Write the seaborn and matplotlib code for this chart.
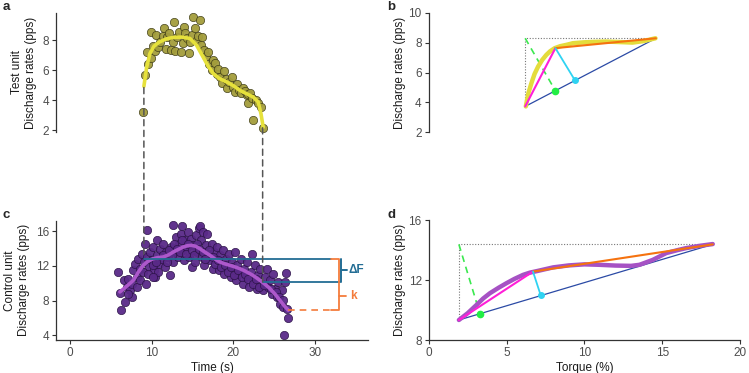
import numpy as np
import pandas as pd
import seaborn as sns
import matplotlib.pyplot as plt
from matplotlib.patches import ConnectionPatch

# ---- panel a : test unit (time, discharge rate) ----
test_time = [8.98, 9.22, 9.39, 9.59, 9.88, 9.92, 10.12, 10.37, 10.53, 10.82, 11.02, 11.35, 11.55,
             11.76, 11.92, 12.16, 12.33, 12.57, 12.78, 12.9, 13.14, 13.39, 13.63, 13.8, 13.96,
             14.08, 14.29, 14.53, 14.69, 14.9, 15.1, 15.31, 15.51, 15.71, 15.92, 16.0, 16.12,
             16.41, 16.65, 16.86, 17.06, 17.39, 17.55, 17.76, 17.96, 18.16, 18.37, 18.61, 18.86,
             19.1, 19.27, 19.51, 19.8, 20.0, 20.25, 20.41, 20.65, 20.9, 21.14, 21.39, 21.63,
             21.84, 22.04, 21.84, 22.24, 22.45, 22.78, 23.06, 23.35, 23.67]
test_rate = [3.22, 5.71, 7.22, 6.44, 8.51, 6.78, 7.6, 7.27, 8.33, 7.56, 7.89, 8.27, 8.78,
             7.44, 8.22, 8.44, 7.33, 7.89, 9.18, 7.29, 8.22, 8.56, 7.2, 7.78, 8.89,
             8.44, 8.11, 7.16, 7.89, 8.33, 9.51, 8.78, 8.0, 8.27, 9.33, 7.67, 8.22,
             7.33, 6.93, 7.22, 6.44, 6.0, 6.67, 6.49, 5.78, 6.11, 5.56, 5.16, 5.96,
             5.44, 4.84, 5.22, 5.56, 4.89, 4.56, 5.11, 4.67, 4.49, 4.84, 4.6, 4.33,
             4.44, 4.49, 3.84, 4.18, 2.71, 4.04, 3.82, 3.56, 2.18]
test_fit_time = [9.06, 9.4, 9.8, 10.3, 11.0, 11.8, 12.65, 13.7, 14.7, 15.5, 16.3, 16.9, 17.55,
                 18.3, 19.2, 20.0, 20.8, 21.6, 22.45, 23.06, 23.4, 23.67]
test_fit_rate = [4.93, 6.2, 7.11, 7.6, 7.89, 8.08, 8.18, 8.2, 8.11, 7.67, 6.89, 6.3, 5.78,
                 5.45, 5.22, 4.98, 4.67, 4.45, 4.22, 3.89, 3.1, 2.22]

# ---- panel c : control unit ----
ctrl_time = [5.92, 6.2, 6.12, 6.73, 6.61, 6.94, 7.14, 7.35, 7.55, 7.76, 7.96, 8.16, 8.37, 8.57,
             8.78, 9.06, 9.18, 9.47, 9.39, 9.71, 9.8, 10.0, 10.2, 10.29, 10.41, 10.61, 10.69,
             10.94, 11.02, 11.22, 11.43, 11.63, 11.76, 12.04, 12.24, 12.33, 12.57, 12.65, 12.86,
             12.98, 13.27, 13.39, 13.55, 13.71, 13.8, 13.96, 14.08, 14.29, 14.41, 14.61, 14.78,
             14.94, 15.1, 15.31, 15.43, 15.59, 15.76, 15.92, 16.0, 16.12, 16.33, 16.41, 16.65,
             16.82, 16.94, 17.14, 17.35, 17.55, 17.67, 17.88, 18.04, 18.2, 18.37, 18.57, 18.78,
             18.9, 19.1, 19.27, 19.51, 19.67, 19.84, 20.0, 20.2, 20.33, 20.49, 20.73, 20.9,
             21.14, 21.31, 21.55, 21.71, 21.96, 22.12, 22.29, 22.45, 22.65, 22.86, 23.06, 23.27,
             23.47, 23.67, 23.88, 24.08, 24.29, 24.49, 24.69, 24.9, 25.1, 25.31, 25.51, 25.71,
             25.92, 26.12, 26.2, 26.33, 26.45, 26.61, 26.73,
             8.98, 9.59, 10.12, 10.53, 10.82, 11.35, 11.84, 12.16, 12.45, 12.73, 13.06, 13.47,
             13.67, 14.2, 14.49, 14.9, 15.22, 15.51, 15.84, 16.24, 16.53, 17.06, 17.47, 17.76,
             18.16, 18.45, 19.0, 19.39, 19.76, 20.12, 20.61, 21.02, 21.43, 21.84, 22.37, 22.78,
             23.18, 23.8, 24.57, 25.22, 25.63, 26.04, 7.55, 7.14, 8.24, 8.57, 9.31, 10.2]
ctrl_rate = [11.29, 6.96, 8.88, 7.84, 10.33, 9.57, 10.53, 9.18, 9.95, 11.48, 12.25, 10.72, 12.82, 11.67,
             13.4, 12.44, 14.55, 16.08, 13.0, 11.87, 13.59, 12.63, 14.17, 11.48, 10.72, 13.21, 14.93,
             12.25, 13.97, 12.82, 14.55, 11.87, 13.59, 13.02, 10.91, 14.17, 12.44, 16.66, 13.59,
             15.31, 13.02, 14.55, 15.7, 16.54, 13.78, 12.63, 14.93, 14.17, 15.89, 13.02, 15.12,
             11.87, 14.36, 12.44, 15.51, 13.59, 16.39, 16.54, 14.93, 13.02, 15.89, 12.06, 14.36,
             15.62, 13.4, 12.63, 14.55, 11.67, 13.59, 12.82, 14.17, 11.48, 13.21, 12.25, 13.78,
             11.1, 12.82, 11.87, 13.4, 10.72, 12.44, 11.48, 13.59, 10.33, 12.06, 11.1, 12.82,
             9.95, 11.67, 10.72, 12.44, 9.57, 11.29, 13.4, 10.33, 12.06, 9.38, 10.91, 11.67,
             9.95, 9.18, 10.72, 11.67, 9.57, 10.33, 8.8, 11.1, 9.38, 8.42, 10.14, 7.65,
             9.18, 7.27, 4.0, 10.14, 11.18, 7.08, 6.0,
             11.29, 11.1, 12.06, 12.44, 11.29, 13.21, 12.44, 13.78, 13.21, 14.55, 13.97, 13.59,
             14.93, 13.4, 14.55, 13.78, 13.21, 14.55, 13.97, 13.59, 12.82, 13.78, 13.02, 12.25,
             12.63, 11.87, 12.06, 11.29, 11.87, 10.91, 11.48, 10.72, 11.1, 10.53, 9.95, 10.53,
             9.57, 9.76, 9.38, 8.99, 8.42, 8.03, 8.42, 8.8, 9.57, 10.33, 9.95, 10.7]
ctrl_fit_time = [6.12, 6.9, 7.76, 8.4, 8.98, 9.6, 10.2, 10.8, 11.43, 12.05, 12.65, 13.3, 13.88, 14.4,
                 14.9, 15.4, 15.92, 16.5, 17.14, 17.75, 18.37, 19.0, 19.59, 20.2, 20.82, 21.4,
                 22.04, 22.65, 23.27, 23.9, 24.49, 25.1, 25.71, 26.2, 26.73]
ctrl_fit_rate = [8.99, 9.6, 10.33, 11.3, 12.06, 12.55, 12.82, 12.95, 13.02, 13.25, 13.59, 13.9, 14.17, 14.32,
                 14.36, 14.25, 13.97, 13.6, 13.21, 12.8, 12.44, 12.22, 12.06, 11.88, 11.67, 11.42,
                 11.1, 10.75, 10.33, 9.87, 9.38, 8.75, 8.03, 7.45, 6.89]

# delta F / k annotation levels (control unit rates)
t_recruit, t_derecruit = 9.06, 23.6
rate_a_recruit, rate_a_derecruit = 4.85, 2.18
rate_c_recruit, rate_c_derecruit = 12.83, 10.14
t_ctrl_end, rate_c_end = 26.73, 6.89

# ---- panel b : test unit rate vs torque ----
b_curve_torque = [6.24, 6.4, 6.6, 6.8, 7.03, 7.3, 7.56, 7.8, 8.1, 8.45, 8.85, 9.27, 10.0, 10.7,
                  11.4, 12.2, 13.1, 13.8, 14.57]
b_curve_rate = [3.73, 4.6, 5.29, 5.9, 6.4, 6.85, 7.18, 7.42, 7.63, 7.76, 7.85, 7.96, 8.02, 8.05,
                8.07, 8.04, 8.0, 8.1, 8.29]
b_start = (6.2, 3.73)
b_knee = (8.14, 7.63)
b_end = (14.6, 8.29)
b_perp = (9.4, 5.47)
b_green = (8.14, 4.78)

# ---- panel d : control unit rate vs torque ----
d_curve_torque = [1.94, 2.5, 3.07, 3.5, 3.93, 4.5, 5.0, 5.5, 6.06, 6.5, 7.03, 8.0, 9.0, 10.0, 10.98,
                  12.0, 13.0, 13.54, 14.4, 15.26, 16.0, 16.54, 17.4, 18.25]
d_curve_rate = [9.35, 9.8, 10.35, 10.78, 11.13, 11.5, 11.8, 12.08, 12.35, 12.5, 12.62, 12.85, 12.98, 13.05, 13.02,
                12.97, 12.95, 13.02, 13.35, 13.8, 14.0, 14.13, 14.28, 14.4]
d_start = (1.94, 9.35)
d_knee = (6.7, 12.57)
d_end = (18.25, 14.38)
d_perp = (7.2, 10.98)
d_green = (3.29, 9.77)

sns.set_theme(style="ticks")
plt.rcParams["font.family"] = ["Liberation Sans", "DejaVu Sans"]

TICK_GREY = "#4d4d4d"
AX_COL = "#333333"


def style_axis(ax, bottom=True):
    sns.despine(ax=ax, bottom=not bottom)
    for s in ["left", "bottom"]:
        ax.spines[s].set_color(AX_COL)
        ax.spines[s].set_linewidth(0.9)
    ax.tick_params(length=3, width=0.8, color=AX_COL, labelcolor=TICK_GREY, labelsize=8.5, pad=2)
    if not bottom:
        ax.set_xticks([])
        ax.set_xlabel("")


def draw_torque_panel(ax, torque, rate, curve_col, start, knee, end, perp, green):
    # dotted reference box
    ax.plot([start[0], start[0], end[0]], [start[1], end[1], end[1]], ls=(0, (1, 1.5)),
            color="#777777", lw=0.8)
    # green dashed line to its point on the diagonal
    ax.plot([start[0], green[0]], [end[1], green[1]], ls=(0, (4, 3)), color="#3be84f", lw=1.2)
    # diagonal
    ax.plot([start[0], end[0]], [start[1], end[1]], color="#2b4aa5", lw=0.9)
    sns.lineplot(x=torque, y=rate, ax=ax, color=curve_col, lw=3.2, sort=False, estimator=None,
                 solid_capstyle="round")
    ax.plot([start[0], knee[0]], [start[1], knee[1]], color="#ff1fd8", lw=1.5)
    ax.plot([knee[0], end[0]], [knee[1], end[1]], color="#f5720f", lw=1.5)
    ax.plot([knee[0], perp[0]], [knee[1], perp[1]], color="#2fd3f2", lw=1.3)
    ax.plot([perp[0]], [perp[1]], "o", color="#2fd3f2", ms=4)
    ax.plot([green[0]], [green[1]], "o", color="#22ee44", ms=4.5)


W, H = 749, 373
fig = plt.figure(figsize=(W / 100, H / 100), dpi=100)


def px_axes(left, top, right, bottom):
    return fig.add_axes([left / W, 1 - bottom / H, (right - left) / W, (bottom - top) / H])


ax_a = px_axes(56, 13, 368, 132)
ax_b = px_axes(428.7, 12.7, 740, 132.3)
ax_c = px_axes(56, 220.7, 368, 340)
ax_d = px_axes(428.7, 220, 740, 340.3)

# panel a
sns.scatterplot(x=test_time, y=test_rate, ax=ax_a, s=36, color="#a39d3c", edgecolor="#3e3c17",
                linewidth=0.5, alpha=0.95, zorder=2)
sns.lineplot(x=test_fit_time, y=test_fit_rate, ax=ax_a, color="#e6e13c", lw=2.6, sort=False,
             estimator=None, zorder=3, solid_capstyle="round")
ax_a.set_xlim(-1.7, 36.5)
ax_a.set_ylim(1.9, 9.8)
ax_a.set_yticks([2, 4, 6, 8])
ax_a.set_ylabel("Test unit\nDischarge rates (pps)", fontsize=8.5, color="#1a1a1a", labelpad=4)
style_axis(ax_a, bottom=False)

# panel c
sns.scatterplot(x=ctrl_time, y=ctrl_rate, ax=ax_c, s=36, color="#5a2a88", edgecolor="#2a1245",
                linewidth=0.5, alpha=0.95, zorder=2)
sns.lineplot(x=ctrl_fit_time, y=ctrl_fit_rate, ax=ax_c, color="#ad58cb", lw=2.6, sort=False,
             estimator=None, zorder=3, solid_capstyle="round")
BLUE = "#236d94"
ORANGE = "#f47c3c"
x_brk = 32.97
ax_c.plot([t_recruit, x_brk - 1.0], [rate_c_recruit] * 2, color=BLUE, lw=1.3, zorder=4)
ax_c.plot([t_derecruit, x_brk + 0.15], [rate_c_derecruit] * 2, color=BLUE, lw=1.3, zorder=4)
ax_c.plot([t_ctrl_end, x_brk - 1.0], [rate_c_end] * 2, color=ORANGE, lw=1.2, ls=(0, (4, 3)), zorder=4)
ax_c.plot([x_brk - 1.0, x_brk, x_brk, x_brk - 1.0],
          [rate_c_recruit, rate_c_recruit, rate_c_end, rate_c_end], color=ORANGE, lw=1.3, zorder=4)
k_mid = (rate_c_derecruit + rate_c_end) / 2
ax_c.plot([x_brk, x_brk + 0.8], [k_mid, k_mid], color=ORANGE, lw=1.3, zorder=4)
ax_c.plot([x_brk + 0.2, x_brk + 0.2], [rate_c_recruit, rate_c_derecruit], color=BLUE, lw=1.4, zorder=5)
df_mid = (rate_c_recruit + rate_c_derecruit) / 2
ax_c.plot([x_brk + 0.2, x_brk + 0.9], [df_mid, df_mid], color=BLUE, lw=1.4, zorder=5)
ax_c.text(x_brk + 1.2, df_mid, "ΔF", color=BLUE, fontsize=8.5, weight="bold", va="center")
ax_c.text(x_brk + 1.4, k_mid, "k", color=ORANGE, fontsize=8.5, weight="bold", va="center")
ax_c.set_xlim(-1.7, 36.5)
ax_c.set_ylim(3.45, 17.2)
ax_c.set_xticks([0, 10, 20, 30])
ax_c.set_yticks([4, 8, 12, 16])
ax_c.set_xlabel("Time (s)", fontsize=8.5, color="#1a1a1a", labelpad=2)
ax_c.set_ylabel("Control unit\nDischarge rates (pps)", fontsize=8.5, color="#1a1a1a", labelpad=4)
style_axis(ax_c)

# dashed connectors between test and control unit
for t, ra, rc in [(t_recruit, rate_a_recruit, rate_c_recruit),
                  (t_derecruit, rate_a_derecruit, rate_c_derecruit)]:
    con = ConnectionPatch(xyA=(t, ra), coordsA=ax_a.transData, xyB=(t, rc), coordsB=ax_c.transData,
                          color="#555555", lw=1.1, ls=(0, (4, 3)))
    fig.add_artist(con)

# panel b
draw_torque_panel(ax_b, b_curve_torque, b_curve_rate, "#e4dc3c", b_start, b_knee, b_end, b_perp, b_green)
ax_b.set_xlim(0, 20)
ax_b.set_ylim(2, 10)
ax_b.set_yticks([2, 4, 6, 8, 10])
ax_b.set_ylabel("Discharge rates (pps)", fontsize=8.5, color="#1a1a1a", labelpad=2)
style_axis(ax_b, bottom=False)

# panel d
draw_torque_panel(ax_d, d_curve_torque, d_curve_rate, "#a652c4", d_start, d_knee, d_end, d_perp, d_green)
ax_d.set_xlim(0, 20)
ax_d.set_ylim(8, 16)
ax_d.set_xticks([0, 5, 10, 15, 20])
ax_d.set_yticks([8, 12, 16])
ax_d.set_xlabel("Torque (%)", fontsize=8.5, color="#1a1a1a", labelpad=2)
ax_d.set_ylabel("Discharge rates (pps)", fontsize=8.5, color="#1a1a1a", labelpad=2)
style_axis(ax_d)

for lab, x, y in [("a", 6, 7), ("b", 391, 7), ("c", 6, 215), ("d", 392, 215)]:
    fig.text(x / W, 1 - y / H, lab, fontsize=9.5, weight="bold", ha="center", va="center")

fig.savefig("out.png", dpi=100)
